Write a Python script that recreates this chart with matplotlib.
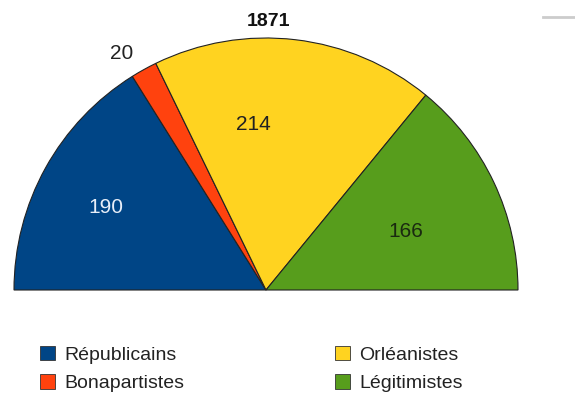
import matplotlib
matplotlib.use("Agg")
import matplotlib.pyplot as plt
from matplotlib.patches import Patch
import numpy as np

plt.rcParams['font.family'] = ['Liberation Sans', 'DejaVu Sans']

title = "1871"
parties = ["Républicains", "Bonapartistes", "Orléanistes", "Légitimistes"]
seats = [190, 20, 214, 166]
colors = ["#004586", "#ff420e", "#ffd320", "#579d1c"]
label_colors = ["#e8eef8", "#222222", "#222222", "#1a2a10"]

W, H = 575, 394
fig = plt.figure(figsize=(W / 100, H / 100), dpi=100)
ax = fig.add_axes([0, 0, 1, 1])

cx, cy, R = 266, 394 - 290, 252
total = sum(seats)
wedges, _ = ax.pie(seats + [total], colors=colors + ["none"], startangle=180,
                   counterclock=False, center=(cx, cy), radius=R, frame=True,
                   wedgeprops=dict(edgecolor="#222222", linewidth=0.8))
wedges[-1].set_edgecolor("none")
ax.set_xlim(0, W)
ax.set_ylim(0, H)
ax.set_aspect('equal')
ax.axis('off')

# label placement (radius fraction, angle tweak)
place = [(0.715, 1.6), (1.1, 2.5), (0.66, 11.0), (0.6, -2.5)]
for w, v, c, (rf, da) in zip(wedges[:4], seats, label_colors, place):
    ang = np.deg2rad((w.theta1 + w.theta2) / 2 + da)
    ax.text(cx + rf * R * np.cos(ang), cy + rf * R * np.sin(ang), str(v),
            ha='center', va='center', fontsize=15, color=c)

ax.text(268, 394 - 21, title, ha='center', va='center', fontsize=14,
        fontweight='bold', color='#111111')

# small grey line at top-right
ax.plot([543, 575], [394 - 17, 394 - 17], color="#cccccc", lw=2)

handles = [Patch(facecolor=c, edgecolor="#333333", linewidth=0.6) for c in colors]
common = dict(loc='upper left', frameon=False, fontsize=14, handlelength=0.75,
              handleheight=0.75, handletextpad=0.5, labelspacing=0.54,
              borderpad=0, borderaxespad=0)
leg1 = fig.legend(handles[:2], parties[:2], bbox_to_anchor=(40 / W, 1 - 346 / H), **common)
leg2 = fig.legend(handles[2:], parties[2:], bbox_to_anchor=(335 / W, 1 - 346 / H), **common)
for leg in (leg1, leg2):
    for t in leg.get_texts():
        t.set_color('#222222')

fig.savefig("out.png", dpi=100)
